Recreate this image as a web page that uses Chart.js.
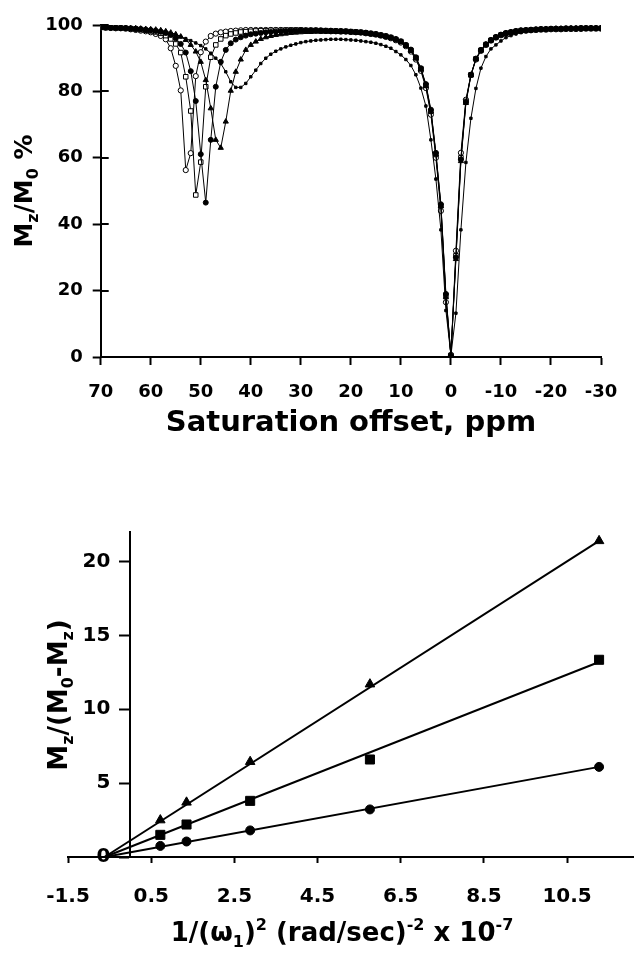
<!DOCTYPE html>
<html lang="en">
<head>
<meta charset="UTF-8">
<title>Z-spectra and saturation power plot</title>
<script src="https://cdn.jsdelivr.net/npm/chart.js"></script>
<style>
    body { margin: 0; background: #fff; }
    .wrap { position: relative; width: 641px; height: 959px; }
    canvas { position: absolute; left: 0; }
    #zChart { top: 0; }
    #b1Chart { top: 480px; }
</style>
</head>
<body>
<div class="wrap">
    <canvas id="zChart" width="641" height="450"></canvas>
    <canvas id="b1Chart" width="641" height="479"></canvas>
</div>
<script>
// ---- top panel: Z-spectra, saturation offset in ppm (70 .. -30) ----
const offsets = [
    70, 69, 68, 67, 66, 65, 64, 63, 62, 61,
    60, 59, 58, 57, 56, 55, 54, 53, 52, 51,
    50, 49, 48, 47, 46, 45, 44, 43, 42, 41,
    40, 39, 38, 37, 36, 35, 34, 33, 32, 31,
    30, 29, 28, 27, 26, 25, 24, 23, 22, 21,
    20, 19, 18, 17, 16, 15, 14, 13, 12, 11,
    10, 9, 8, 7, 6, 5, 4, 3, 2, 1,
    0, -1, -2, -3, -4, -5, -6, -7, -8, -9,
    -10, -11, -12, -13, -14, -15, -16, -17, -18, -19,
    -20, -21, -22, -23, -24, -25, -26, -27, -28, -29,
    -30
];
const zOpenCircle = [
    99.2, 99.2, 99.1, 99.0, 99.0, 98.9, 98.7, 98.5, 98.3, 98.1,
    97.8, 97.3, 96.7, 95.7, 93.0, 87.7, 80.3, 56.3, 61.4, 84.6,
    91.8, 95.0, 96.7, 97.4, 97.8, 98.0, 98.2, 98.3, 98.4, 98.5,
    98.5, 98.5, 98.5, 98.5, 98.5, 98.5, 98.5, 98.4, 98.4, 98.4,
    98.4, 98.3, 98.3, 98.3, 98.2, 98.2, 98.1, 98.1, 98.0, 98.0,
    97.9, 97.8, 97.7, 97.5, 97.3, 97.1, 96.8, 96.4, 96.0, 95.4,
    94.7, 93.6, 92.0, 89.6, 86.2, 81.0, 73.0, 60.0, 44.0, 16.5,
    0.6, 32.0, 61.5, 77.5, 85.0, 89.6, 92.2, 94.0, 95.3, 96.2,
    96.9, 97.4, 97.7, 98.0, 98.2, 98.3, 98.4, 98.5, 98.6, 98.6,
    98.7, 98.7, 98.7, 98.8, 98.8, 98.8, 98.8, 98.9, 98.9, 98.9,
    98.9
];
const zOpenSquare = [
    99.3, 99.2, 99.2, 99.1, 99.1, 99.0, 98.9, 98.8, 98.6, 98.4,
    98.2, 97.9, 97.5, 96.8, 95.8, 94.3, 91.7, 84.4, 74.1, 48.8,
    58.7, 81.4, 90.3, 94.0, 95.8, 96.8, 97.3, 97.6, 97.9, 98.0,
    98.1, 98.2, 98.3, 98.3, 98.4, 98.4, 98.4, 98.5, 98.5, 98.5,
    98.5, 98.4, 98.4, 98.4, 98.3, 98.3, 98.2, 98.2, 98.1, 98.1,
    98.0, 97.9, 97.8, 97.6, 97.4, 97.2, 96.9, 96.6, 96.2, 95.6,
    95.0, 93.9, 92.4, 90.1, 86.8, 81.8, 74.0, 61.0, 45.5, 18.5,
    0.5, 30.5, 60.0, 77.0, 85.0, 89.8, 92.4, 94.1, 95.4, 96.3,
    97.0, 97.5, 97.8, 98.1, 98.3, 98.4, 98.5, 98.6, 98.7, 98.7,
    98.8, 98.8, 98.8, 98.9, 98.9, 98.9, 99.0, 99.0, 99.0, 99.0,
    99.0
];
const zFilledCircle = [
    99.3, 99.3, 99.2, 99.2, 99.1, 99.1, 99.0, 98.9, 98.8, 98.6,
    98.5, 98.3, 98.0, 97.6, 97.0, 96.0, 94.3, 91.7, 86.1, 77.1,
    61.1, 46.5, 65.4, 81.4, 88.9, 92.5, 94.5, 95.6, 96.3, 96.8,
    97.2, 97.4, 97.6, 97.8, 97.9, 98.0, 98.1, 98.2, 98.3, 98.3,
    98.4, 98.4, 98.4, 98.4, 98.4, 98.3, 98.3, 98.2, 98.2, 98.1,
    98.0, 97.9, 97.8, 97.7, 97.5, 97.3, 97.0, 96.7, 96.3, 95.8,
    95.1, 94.0, 92.6, 90.3, 87.0, 82.2, 74.5, 61.5, 46.0, 19.0,
    0.4, 30.0, 59.5, 76.8, 85.0, 89.9, 92.5, 94.2, 95.5, 96.4,
    97.1, 97.6, 97.9, 98.2, 98.4, 98.5, 98.6, 98.7, 98.8, 98.8,
    98.9, 98.9, 98.9, 99.0, 99.0, 99.0, 99.1, 99.1, 99.1, 99.1,
    99.1
];
const zTriangle = [
    99.3, 99.3, 99.2, 99.2, 99.1, 99.1, 99.0, 99.0, 98.9, 98.8,
    98.7, 98.6, 98.4, 98.1, 97.7, 97.2, 96.5, 95.5, 94.0, 92.0,
    88.9, 83.4, 74.9, 65.4, 63.0, 70.9, 80.2, 85.9, 89.6, 92.5,
    94.0, 95.0, 95.8, 96.3, 96.7, 97.0, 97.2, 97.4, 97.6, 97.7,
    97.8, 97.9, 97.9, 98.0, 98.0, 98.0, 98.0, 98.0, 97.9, 97.9,
    97.8, 97.7, 97.6, 97.5, 97.3, 97.1, 96.8, 96.5, 96.1, 95.6,
    94.9, 93.8, 92.3, 90.0, 86.6, 81.6, 74.0, 61.0, 45.5, 18.0,
    0.5, 29.5, 59.0, 76.5, 84.8, 89.7, 92.4, 94.1, 95.4, 96.3,
    97.0, 97.5, 97.8, 98.1, 98.3, 98.4, 98.5, 98.6, 98.7, 98.8,
    98.8, 98.9, 98.9, 98.9, 99.0, 99.0, 99.0, 99.0, 99.1, 99.1,
    99.1
];
const zSmallDot = [
    99.1, 99.0, 98.9, 98.9, 98.8, 98.7, 98.6, 98.5, 98.4, 98.3,
    98.1, 97.9, 97.7, 97.4, 97.1, 96.8, 96.4, 95.9, 95.3, 94.6,
    93.8, 92.8, 91.5, 90.0, 88.4, 85.9, 82.9, 81.2, 81.2, 82.4,
    84.4, 86.4, 88.4, 90.0, 91.2, 92.1, 92.8, 93.4, 93.9, 94.3,
    94.7, 95.0, 95.2, 95.4, 95.5, 95.6, 95.7, 95.7, 95.7, 95.6,
    95.5, 95.4, 95.2, 95.0, 94.8, 94.5, 94.1, 93.6, 93.0, 92.0,
    91.0, 89.6, 87.8, 85.0, 81.0, 75.6, 65.4, 53.6, 38.3, 14.0,
    0.5, 13.2, 38.3, 58.6, 71.9, 80.9, 87.0, 90.5, 92.8, 94.0,
    95.2, 96.2, 96.8, 97.3, 97.7, 98.0, 98.2, 98.4, 98.5, 98.6,
    98.7, 98.7, 98.8, 98.8, 98.9, 98.9, 98.9, 99.0, 99.0, 99.0,
    99.0
];

// ---- bottom panel: Mz/(M0-Mz) against 1/(w1)^2 ----
const invPower = [0.72, 1.35, 2.88, 5.76, 11.27];
const ratioTriangle = [2.5, 3.7, 6.45, 11.7, 21.4];
const ratioSquare = [1.5, 2.2, 3.8, 6.6, 13.35];
const ratioCircle = [0.75, 1.05, 1.8, 3.22, 6.1];
// fitted lines: common x-intercept and value at the last point
const fitStartX = -0.62;
const fitEndX = 11.27;
const fitEndTriangle = 21.4;
const fitEndSquare = 13.2;
const fitEndCircle = 6.1;
const bottomXTicks = [-1.5, 0.5, 2.5, 4.5, 6.5, 8.5, 10.5];

const FONT = '"DejaVu Sans", "Liberation Sans", sans-serif';
Chart.defaults.font.family = FONT;
Chart.defaults.font.weight = 'bold';
Chart.defaults.color = '#000';

function pts(xs, ys) {
    return xs.map((x, i) => ({ x: x, y: ys[i] }));
}

// draws a title with sub/superscripts, centred on (cx, cy)
function drawRich(ctx, parts, cx, cy, size, angle) {
    ctx.save();
    ctx.translate(cx, cy);
    ctx.rotate(angle);
    ctx.fillStyle = '#000';
    ctx.textBaseline = 'alphabetic';
    const fonts = parts.map(p => {
        const s = p[1] ? Math.round(size * 0.62) : size;
        return 'bold ' + s + 'px ' + FONT;
    });
    let total = 0;
    const widths = parts.map((p, i) => {
        ctx.font = fonts[i];
        const w = ctx.measureText(p[0]).width;
        total += w;
        return w;
    });
    let x = -total / 2;
    const base = size * 0.36;
    parts.forEach((p, i) => {
        ctx.font = fonts[i];
        let dy = base;
        if (p[1] === 'sub') dy += size * 0.22;
        if (p[1] === 'sup') dy -= size * 0.42;
        ctx.fillText(p[0], x, dy);
        x += widths[i];
    });
    ctx.restore();
}

function titlePlugin(titles) {
    return {
        id: 'richTitles',
        afterDraw(chart) {
            titles.forEach(t => drawRich(chart.ctx, t.parts, t.x, t.y, t.size, t.angle));
        }
    };
}

// y ticks of the top panel cross the axis: draw the inner half
const innerTicks = {
    id: 'innerTicks',
    afterDraw(chart) {
        const y = chart.scales.y;
        const ctx = chart.ctx;
        const x0 = chart.chartArea.left;
        ctx.save();
        ctx.strokeStyle = '#000';
        ctx.lineWidth = 2;
        ctx.beginPath();
        y.ticks.forEach(t => {
            const py = Math.round(y.getPixelForValue(t.value));
            if (t.value === 0) return;
            ctx.moveTo(x0, py);
            ctx.lineTo(x0 + 8, py);
        });
        ctx.stroke();
        ctx.restore();
    }
};

function axisStyle(tickLen, extra) {
    return Object.assign({
        grid: { display: true, drawOnChartArea: false, drawTicks: true, tickLength: tickLen, tickWidth: 2, tickColor: '#000' },
        border: { display: true, color: '#000', width: 2 }
    }, extra);
}

function zSet(values, style, radius, fill) {
    return {
        data: pts(offsets, values),
        borderColor: '#000',
        borderWidth: 1,
        pointStyle: style,
        pointRadius: radius,
        pointBackgroundColor: fill,
        pointBorderColor: '#000',
        pointBorderWidth: 1,
        tension: 0
    };
}

new Chart(document.getElementById('zChart'), {
    type: 'line',
    data: {
        datasets: [
            zSet(zSmallDot, 'rect', 1.7, '#000'),
            zSet(zTriangle, 'triangle', 3, '#000'),
            zSet(zFilledCircle, 'circle', 2.5, '#000'),
            zSet(zOpenSquare, 'rect', 3.2, '#fff'),
            zSet(zOpenCircle, 'circle', 2.6, '#fff')
        ]
    },
    options: {
        responsive: false,
        animation: false,
        devicePixelRatio: 1,
        layout: { padding: { left: 0, top: 25, right: 40, bottom: 0 } },
        plugins: { legend: { display: false }, tooltip: { enabled: false } },
        scales: {
            x: axisStyle(8, {
                type: 'linear', reverse: true, min: -30, max: 70,
                ticks: { stepSize: 10, padding: 17, font: { size: 18, weight: 'bold' } },
                afterFit: s => { s.height = 93; }
            }),
            y: axisStyle(8, {
                min: 0, max: 100,
                ticks: { stepSize: 20, padding: 10, font: { size: 18, weight: 'bold' } },
                afterFit: s => { s.width = 100.7; }
            })
        }
    },
    plugins: [innerTicks, titlePlugin([
        { parts: [['M', ''], ['z', 'sub'], ['/M', ''], ['0', 'sub'], [' %', '']], x: 23, y: 191, size: 25, angle: -Math.PI / 2 },
        { parts: [['Saturation offset, ppm', '']], x: 351, y: 421, size: 29, angle: 0 }
    ])]
});

function fitSet(endY) {
    return {
        data: [{ x: fitStartX, y: 0 }, { x: fitEndX, y: endY }],
        borderColor: '#000',
        borderWidth: 2,
        pointRadius: 0,
        tension: 0
    };
}

function markSet(values, style, radius) {
    return {
        data: pts(invPower, values),
        showLine: false,
        pointStyle: style,
        pointRadius: radius,
        pointBackgroundColor: '#000',
        pointBorderColor: '#000',
        pointBorderWidth: 1
    };
}

new Chart(document.getElementById('b1Chart'), {
    type: 'line',
    data: {
        datasets: [
            fitSet(fitEndTriangle),
            fitSet(fitEndSquare),
            fitSet(fitEndCircle),
            markSet(ratioTriangle, 'triangle', 5.5),
            markSet(ratioSquare, 'rect', 6.4),
            markSet(ratioCircle, 'circle', 4.5)
        ]
    },
    options: {
        responsive: false,
        animation: false,
        devicePixelRatio: 1,
        clip: false,
        layout: { padding: { left: 68, top: 52, right: 5, bottom: 0 } },
        plugins: { legend: { display: false }, tooltip: { enabled: false } },
        scales: {
            x: axisStyle(6, {
                type: 'linear', min: -1.5, max: 12.1,
                afterBuildTicks: s => { s.ticks = bottomXTicks.map(v => ({ value: v })); },
                ticks: { padding: 22, font: { size: 20, weight: 'bold' }, callback: v => Number(v).toFixed(1) },
                afterFit: s => { s.height = 102; }
            }),
            y: axisStyle(10, {
                position: { x: 0 },
                min: 0, max: 22,
                // labels of a value-positioned axis sit on the axis line; en spaces push them left
                ticks: { stepSize: 5, includeBounds: false, font: { size: 20, weight: 'bold' }, callback: v => v + '\u2002\u2002' }
            })
        }
    },
    plugins: [titlePlugin([
        { parts: [['M', ''], ['z', 'sub'], ['/(M', ''], ['0', 'sub'], ['-M', ''], ['z', 'sub'], [')', '']], x: 58, y: 215, size: 26, angle: -Math.PI / 2 },
        { parts: [['1/(', ''], ['\u03c9', ''], ['1', 'sub'], [')', ''], ['2', 'sup'], [' (rad/sec)', ''], ['-2', 'sup'], [' x 10', ''], ['-7', 'sup']], x: 342, y: 452, size: 26, angle: 0 }
    ])]
});
</script>
</body>
</html>
